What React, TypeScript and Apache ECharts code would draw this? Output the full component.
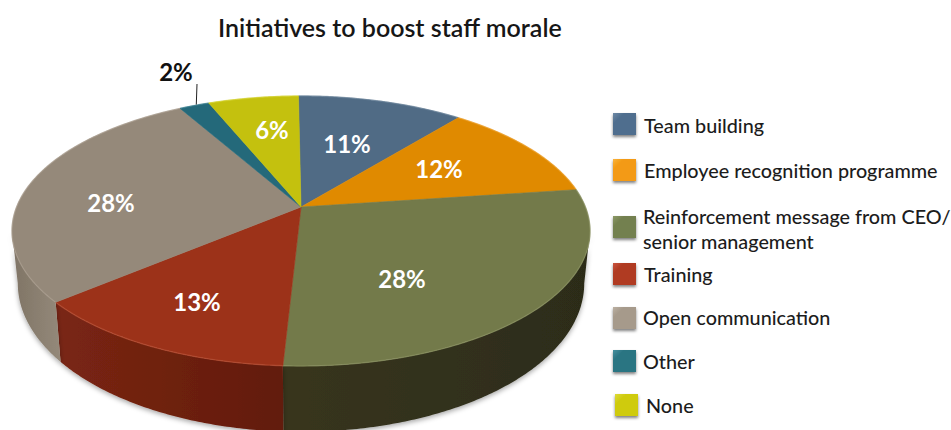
import React, { useEffect, useRef } from "react";
import * as echarts from "echarts";

const titleText = "Initiatives to boost staff morale";
const categories = [
  "Team building",
  "Employee recognition programme",
  "Reinforcement message from CEO/\nsenior management",
  "Training",
  "Open communication",
  "Other",
  "None",
];
const shares = [11, 12, 28, 13, 28, 2, 6];

const faceColors = ["#506b85", "#e08a00", "#737a4a", "#9c3219", "#95897a", "#24697a", "#c4c10e"];
const rimColors = ["#6a839b", "#eda12c", "#8a9160", "#bb5236", "#ab9f90", "#3c8192", "#d6d32e"];
const wallStops = [
  ["#3d5166", "#3d5166"],
  ["#a86800", "#a86800"],
  ["#38351f", "#2c2c19"],
  ["#7a2613", "#621b0c"],
  ["#7f7465", "#94897a"],
  ["#1a4e5b", "#1a4e5b"],
  ["#8f8d0a", "#8f8d0a"],
];
const swatchColors = ["#4f6e8e", "#f39a12", "#73804f", "#b03a22", "#a69a8b", "#2b7482", "#cfcb10"];
const swatchHighlights = ["#6f8aa6", "#f9b440", "#8d9a68", "#c95640", "#bcb1a3", "#46909e", "#dedb3a"];

// Layout of the legend column and of the value labels, in page pixels.
const swatchLeft = [613, 613, 613, 613, 613, 613, 615];
const swatchTop = [113, 159, 216, 263, 307, 350, 394];
const legendTextLeft = [644, 644, 643, 644, 643, 643, 646];
const legendTextY = [125, 170, 203, 274, 317, 361, 405];
const labelCentres = [
  [347, 143],
  [439, 168],
  [402, 278],
  [197, 301],
  [111, 202],
  [176, 71],
  [272, 129],
];

// Disc seen in perspective: apex of the slices, half-axes and foreshortening.
const apexX = 301;
const apexY = 207;
const halfWidth = 284.4;
const halfHeight = 130.7;
const foreshorten = 0.1777;
const startShift = (-0.6 * Math.PI) / 180;
const wallDrop = 50;
const wallScaleX = 0.98;
const wallScaleY = 1.1;

const total = shares.reduce((a, b) => a + b, 0);

function rimPoint(theta: number, sx = 1, sy = 1, drop = 0): number[] {
  const u = Math.sin(theta);
  const v = -Math.cos(theta);
  const w = 1 - foreshorten * v;
  return [apexX + (sx * halfWidth * u) / w, apexY + drop + (sy * halfHeight * v) / w];
}

function sliceAngles(index: number): number[] {
  let before = 0;
  for (let i = 0; i < index; i++) before += shares[i];
  const toAngle = (s: number) => (s / total) * Math.PI * 2 + startShift;
  return [toAngle(before), toAngle(before + shares[index])];
}

function arcPoints(a0: number, a1: number, sx = 1, sy = 1, drop = 0): number[][] {
  const steps = Math.max(2, Math.ceil(Math.abs(a1 - a0) / 0.01));
  const pts: number[][] = [];
  for (let i = 0; i <= steps; i++) {
    pts.push(rimPoint(a0 + ((a1 - a0) * i) / steps, sx, sy, drop));
  }
  return pts;
}

function renderWall(params: any, api: any) {
  const index = params.dataIndex;
  api.value(0);
  const [a0, a1] = sliceAngles(index);
  // The wall only shows between the two silhouette angles of the projected rim.
  const silhouette = Math.acos(-foreshorten);
  const lo = Math.max(a0, silhouette);
  const hi = Math.min(a1, Math.PI * 2 - silhouette);
  if (hi <= lo) return { type: "group", children: [] };
  const points = [...arcPoints(lo, hi), ...arcPoints(hi, lo, wallScaleX, wallScaleY, wallDrop)];
  const stops = wallStops[index];
  return {
    type: "polygon",
    shape: { points },
    style: {
      fill: {
        type: "linear",
        x: 0,
        y: 0,
        x2: 1,
        y2: 0,
        colorStops: [
          { offset: 0, color: stops[0] },
          { offset: 1, color: stops[1] },
        ],
      },
      shadowBlur: 5,
      shadowColor: "rgba(0,0,0,0.35)",
      shadowOffsetY: 2,
    },
  };
}

function renderFace(params: any, api: any) {
  const index = params.dataIndex;
  const value = api.value(0);
  const [a0, a1] = sliceAngles(index);
  const rim = arcPoints(a0, a1);
  const [lx, ly] = labelCentres[index];
  const outside = value < 3;
  const children: any[] = [
    {
      type: "polygon",
      shape: { points: [[apexX, apexY], ...rim] },
      style: { fill: faceColors[index], stroke: faceColors[index], lineWidth: 0.6 },
    },
    {
      type: "polyline",
      shape: { points: rim },
      style: { fill: "none", stroke: rimColors[index], lineWidth: 1.4, opacity: 0.55 },
    },
  ];
  if (outside) {
    const anchor = rimPoint((a0 + a1) / 2);
    children.push({
      type: "line",
      shape: { x1: lx + 21, y1: ly + 13, x2: anchor[0] + 2, y2: anchor[1] - 1 },
      style: { stroke: "#222222", lineWidth: 1 },
    });
  }
  children.push({
    type: "text",
    x: lx,
    y: ly,
    style: {
      text: `${value}%`,
      fill: outside ? "#111111" : "#ffffff",
      font: '700 24px Lato, "Noto Sans", sans-serif',
      textAlign: "center",
      textVerticalAlign: "middle",
    },
  });
  return { type: "group", children };
}

function legendGraphics(): any[] {
  const out: any[] = [];
  categories.forEach((name, i) => {
    out.push({
      type: "rect",
      x: swatchLeft[i],
      y: swatchTop[i],
      shape: { width: 23, height: 22 },
      style: {
        fill: {
          type: "linear",
          x: 0,
          y: 0,
          x2: 1,
          y2: 1,
          colorStops: [
            { offset: 0, color: swatchHighlights[i] },
            { offset: 0.25, color: swatchColors[i] },
            { offset: 1, color: swatchColors[i] },
          ],
        },
        shadowBlur: 3,
        shadowOffsetY: 2,
        shadowColor: "rgba(0,0,0,0.5)",
      },
    });
    const twoLines = name.includes("\n");
    out.push({
      type: "text",
      x: legendTextLeft[i],
      y: legendTextY[i],
      style: {
        text: name,
        fill: "#1c1c1c",
        font: '500 19.8px Lato, "Noto Sans", sans-serif',
        lineHeight: 25,
        textAlign: "left",
        textVerticalAlign: twoLines ? "top" : "middle",
      },
    });
  });
  return out;
}

export default function App() {
  const ref = useRef<HTMLDivElement>(null);
  useEffect(() => {
    if (!ref.current) return;
    const chart = echarts.init(ref.current, undefined, { renderer: "svg" });
    const rows = shares.map((value, i) => ({ name: categories[i], value: [value] }));
    chart.setOption({
      animation: false,
      backgroundColor: "#ffffff",
      title: {
        text: titleText,
        left: 213,
        top: 9,
        textStyle: {
          fontFamily: 'Lato, "Noto Sans", sans-serif',
          fontSize: 25,
          fontWeight: 600,
          color: "#161616",
        },
      },
      graphic: legendGraphics(),
      series: [
        { type: "custom", coordinateSystem: "none", z: 1, renderItem: renderWall, data: rows, silent: true },
        { type: "custom", coordinateSystem: "none", z: 2, renderItem: renderFace, data: rows, silent: true },
      ],
    });
    return () => chart.dispose();
  }, []);
  return (
    <div
      ref={ref}
      style={{ position: "fixed", left: 0, top: 0, width: 951, height: 430, background: "#ffffff" }}
    />
  );
}
